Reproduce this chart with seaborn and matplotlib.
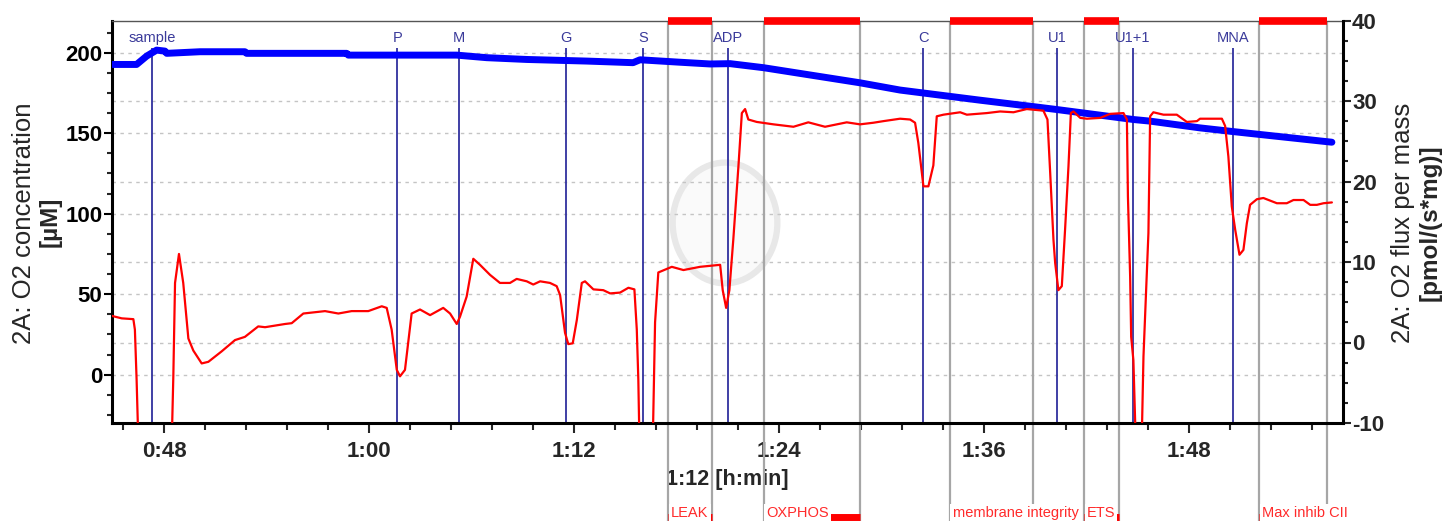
import matplotlib
matplotlib.use("Agg")
import matplotlib.pyplot as plt
import matplotlib.transforms as mtransforms
from matplotlib.patches import Ellipse
from matplotlib.ticker import MultipleLocator
import pandas as pd
import seaborn as sns

# ---------------- data ----------------
# O2 concentration (left axis), time in minutes
conc_time = [44.94, 46.38, 46.97, 47.55, 48.04, 48.14, 50.09, 52.72, 52.82, 58.68,
             58.77, 65.12, 66.88, 69.22, 72.73, 75.44, 75.85, 78.00, 79.95, 81.12,
             83.07, 88.73, 91.07, 95.76, 98.88, 100.25, 104.73, 105.71, 108.63, 110.57,
             116.35]
conc_value = [192.7, 192.7, 197.9, 201.6, 201.0, 199.6, 200.6, 200.6, 199.6, 199.6,
              198.5, 198.5, 196.9, 195.8, 194.8, 193.8, 195.6, 194.2, 193.0, 193.2,
              190.7, 181.3, 176.8, 170.5, 166.5, 164.7, 158.5, 157.5, 153.3, 151.0,
              144.4]

# O2 flux per mass (right axis)
flux_time = [44.94, 45.51, 46.19, 46.28, 46.38, 46.49,
             48.43, 48.53, 48.63, 48.86, 49.11, 49.41, 49.70, 50.19, 50.58, 51.36,
             52.14, 52.72, 53.50, 53.90, 55.07, 55.46, 56.14, 57.41, 58.19, 58.97,
             59.94, 60.73, 61.02, 61.31, 61.61, 61.80, 62.09, 62.48, 62.97, 63.56,
             64.33, 64.73, 65.12, 65.31, 65.70, 66.09, 66.48, 67.07, 67.65, 68.24,
             68.63, 69.22, 69.60, 70.00, 70.58, 70.97, 71.17, 71.46, 71.65, 71.91,
             72.15, 72.44, 72.63, 73.12, 73.70, 74.10, 74.68, 75.17, 75.52, 75.66,
             75.75, 75.82, 76.59, 76.73, 76.92, 77.71, 78.39, 79.36, 80.54, 80.69,
             80.89, 81.08, 81.31, 81.61, 81.81, 82.00, 82.19, 82.68, 83.66, 84.83,
             85.70, 86.68, 87.95, 88.73, 89.51, 90.10, 91.07, 91.66, 91.95, 92.14,
             92.44, 92.73, 93.02, 93.22, 93.61, 94.59, 94.98, 96.15, 96.93, 97.71,
             98.49, 99.46, 99.70, 99.86, 100.05, 100.15, 100.34, 100.54, 100.73, 100.93,
             101.07, 101.22, 101.62, 102.01, 102.79, 103.37, 104.15, 104.35, 104.41, 104.54,
             104.60, 104.73, 104.83, 104.89, 105.21, 105.32, 105.52, 105.61, 105.71, 105.90,
             106.49, 107.27, 107.86, 108.45, 108.63, 109.91, 110.10, 110.29, 110.49, 110.69,
             110.94, 111.17, 111.37, 111.56, 111.96, 112.34, 113.13, 113.71, 114.10, 114.69,
             115.08, 115.47, 115.86, 116.35]
flux_value = [3.3, 3.0, 2.9, 1.6, -4.6, -13,
              -13, -4.2, 7.4, 11.0, 7.4, 0.5, -1.0, -2.6, -2.4, -1.1,
              0.3, 0.7, 2.0, 1.9, 2.3, 2.4, 3.6, 3.9, 3.6, 3.9,
              3.9, 4.5, 4.3, 1.6, -3.4, -4.2, -3.4, 3.6, 4.1, 3.4,
              4.3, 3.6, 2.3, 3.2, 5.7, 10.4, 9.65, 8.4, 7.4, 7.4,
              7.9, 7.6, 7.2, 7.6, 7.4, 7.0, 5.9, 1.2, -0.2, -0.1,
              2.8, 7.4, 7.6, 6.6, 6.5, 6.1, 6.2, 6.8, 6.6, 1.6,
              -4.6, -13, -13, 2.5, 8.7, 9.4, 9.0, 9.4, 9.65, 6.5,
              4.3, 6.5, 12.8, 21.9, 28.5, 29.0, 27.7, 27.4, 27.1, 26.8,
              27.35, 26.8, 27.35, 27.1, 27.3, 27.5, 27.8, 27.7, 27.3, 24.8,
              19.4, 19.4, 22.0, 28.1, 28.3, 28.6, 28.3, 28.5, 28.7, 28.6,
              29.0, 28.8, 27.7, 21.05, 12.8, 9.9, 6.5, 7.0, 14.0, 21.9,
              28.5, 28.7, 27.9, 27.8, 27.9, 28.4, 28.5, 27.7, 18.15, 8.2,
              0.7, -2.2, -9.6, -13, -13, -1.75, 9.0, 13.6, 28.1, 28.6,
              28.3, 28.3, 27.4, 27.5, 27.8, 27.8, 26.9, 23.1, 16.9, 14.0,
              10.9, 11.5, 14.8, 17.1, 17.8, 17.95, 17.3, 17.3, 17.7, 17.7,
              17.1, 17.1, 17.3, 17.4]

# titration events
event_names = ["sample", "P", "M", "G", "S", "ADP", "C", "U1", "U1+1", "MNA"]
event_times = [47.30, 61.64, 65.25, 71.52, 76.01, 81.02, 92.44, 100.25, 104.70, 110.59]

# marks (sections)
mark_names = ["LEAK", "OXPHOS", "membrane integrity", "ETS", "Max inhib CII"]
mark_start = [77.51, 83.09, 94.00, 101.85, 112.11]
mark_end = [80.08, 88.75, 98.88, 103.90, 116.06]

# axis ticks
x_tick_minutes = [48, 60, 72, 84, 96, 108]
x_tick_labels = ["0:48", "1:00", "1:12", "1:24", "1:36", "1:48"]
left_ticks = [0, 50, 100, 150, 200]
right_ticks = [-10, 0, 10, 20, 30, 40]

# ---------------- style ----------------
sns.set_style("white")
plt.rcParams['font.family'] = ['Liberation Sans', 'DejaVu Sans']
plt.rcParams['font.weight'] = 'bold'
plt.rcParams['axes.unicode_minus'] = False

W, H = 1456, 523
fig = plt.figure(figsize=(W / 100, H / 100), dpi=100)
L, R, B, T = 112, 1343, 423, 20.5
ax = fig.add_axes([L / W, 1 - B / H, (R - L) / W, (B - T) / H])
ax2 = ax.twinx()

conc_df = pd.DataFrame({"time": conc_time, "conc": conc_value})
flux_df = pd.DataFrame({"time": flux_time, "flux": flux_value})

sns.lineplot(data=conc_df, x="time", y="conc", ax=ax, color="#0000ff",
             linewidth=5, estimator=None, sort=False, zorder=3)
sns.lineplot(data=flux_df, x="time", y="flux", ax=ax2, color="#ff0000",
             linewidth=1.6, estimator=None, sort=False, zorder=3)

ax.set_xlim(44.94, 117.0)
ax.set_ylim(-30, 220)
ax2.set_ylim(-10, 40)
ax.set_xlabel("")
ax.set_ylabel("")
ax2.set_ylabel("")

# very faint watermark ring (background decoration)
ax.add_patch(Ellipse((0.498, 0.497), 0.085, 0.30, transform=ax.transAxes,
                     facecolor='#fafafa', edgecolor='#e8e8e8', linewidth=4.5, zorder=0.4))

# ticks
ax.set_xticks(x_tick_minutes, x_tick_labels)
ax.xaxis.set_minor_locator(MultipleLocator(2.4))
ax.set_yticks(left_ticks, [str(v) for v in left_ticks])
ax.yaxis.set_minor_locator(MultipleLocator(12.5))
ax2.set_yticks(right_ticks, [str(v) for v in right_ticks])
ax2.yaxis.set_minor_locator(MultipleLocator(2.5))

ax.tick_params(axis='y', which='major', direction='out', length=5.8, width=1.5,
               left=True, right=False, labelsize=16, pad=1, colors='black')
ax.tick_params(axis='y', which='minor', direction='out', length=3.6, width=1.5,
               left=True, right=False)
ax.tick_params(axis='x', which='major', direction='out', length=7, width=1.5,
               bottom=True, top=False, labelsize=16, pad=6)
ax.tick_params(axis='x', which='minor', direction='out', length=5, width=1.5,
               bottom=True, top=False)
ax2.tick_params(axis='y', which='major', direction='out', length=5.5, width=1.5,
                right=True, left=False, labelsize=16, pad=1)
ax2.tick_params(axis='y', which='minor', direction='out', length=3.6, width=1.5,
                right=True, left=False)

# spines
for a in (ax, ax2):
    for s in a.spines.values():
        s.set_visible(False)
for side in ("left", "bottom"):
    ax.spines[side].set_visible(True)
    ax.spines[side].set_color("black")
    ax.spines[side].set_linewidth(2.2)
ax2.spines["right"].set_visible(True)
ax2.spines["right"].set_color("black")
ax2.spines["right"].set_linewidth(2.2)
ax.spines["top"].set_visible(True)
ax.spines["top"].set_color("#555555")
ax.spines["top"].set_linewidth(1.0)

# grid (left axis majors + right axis majors), drawn below data
grid_kw = dict(color="#c4c4c4", linestyle=(0, (2.5, 3.2)), linewidth=1.0)
ax.set_axisbelow(True)
ax.grid(False)
ax2.grid(False)
ax.yaxis.grid(True, which='major', **grid_kw)
rtrans = mtransforms.blended_transform_factory(ax.transAxes, ax2.transData)
lo, hi = ax2.get_ylim()
for v in right_ticks:
    if lo < v < hi:
        ax.plot([0, 1], [v, v], transform=rtrans, zorder=0.8, **grid_kw)

# grey section-mark lines (extend below the axes)
xtr = ax.get_xaxis_transform()
ax.vlines(mark_start + mark_end, -0.2435, 1.0, transform=xtr, colors="#a6a6a6",
          linewidth=1.6, zorder=1.5, clip_on=False)

# navy titration event lines + labels
ax.vlines(event_times, 0, 0.9317, transform=xtr, colors="#30309e",
          linewidth=1.3, zorder=1.6)
xtr2 = ax2.get_xaxis_transform()
for name, t in zip(event_names, event_times):
    ax2.text(t, 0.9565, name, transform=xtr2, ha='center', va='center',
             color="#3a3a9a", fontsize=10.5, fontweight='normal')

# red section bars: top and bottom
ax2.hlines([1.0] * len(mark_start), mark_start, mark_end, transform=xtr2,
           colors="#ff0000", linewidth=5.5, zorder=6, clip_on=False)
ax2.hlines([-0.2335] * len(mark_start), mark_start, mark_end, transform=xtr2,
           colors="#ff0000", linewidth=5.0, zorder=6, clip_on=False)
for name, s in zip(mark_names, mark_start):
    ax2.text(s + 0.15, -0.2236, name, transform=xtr2, ha='left', va='center',
             color="#ff2a2a", fontsize=10.5, fontweight='normal', zorder=7,
             clip_on=False,
             bbox=dict(facecolor='white', edgecolor='none', pad=1.6))

# axis labels
ax.set_xlabel("1:12 [h:min]", fontsize=15.5, fontweight='bold')
ax.xaxis.set_label_coords(0.5, -0.115)
ax.xaxis.label.set_va('top')

fig.text(24 / W, 1 - 223 / H, "2A: O2 concentration", rotation=90, ha='center',
         va='center', fontsize=18.5, fontweight='normal')
fig.text(50 / W, 1 - 222 / H, "[µM]", rotation=90, ha='center', va='center',
         fontsize=17.5, fontweight='bold')
fig.text(1403 / W, 1 - 223 / H, "2A: O2 flux per mass", rotation=90, ha='center',
         va='center', fontsize=18.5, fontweight='normal')
fig.text(1430 / W, 1 - 223 / H, "[pmol/(s*mg)]", rotation=90, ha='center',
         va='center', fontsize=17.5, fontweight='bold')

fig.savefig("out.png", dpi=100)
